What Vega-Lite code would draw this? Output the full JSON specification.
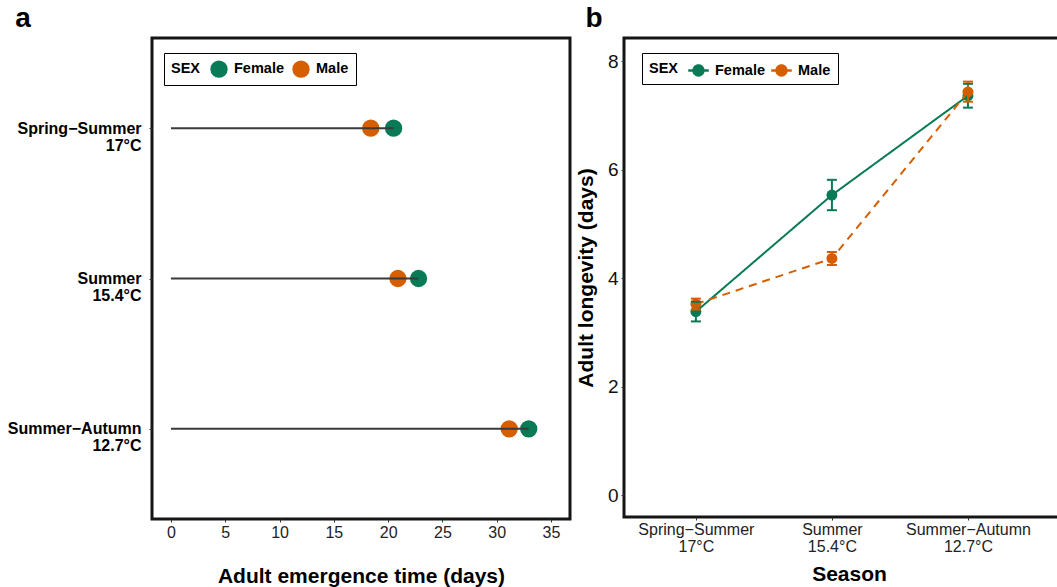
{
  "$schema": "https://vega.github.io/schema/vega-lite/v6.json",
  "padding": {"left": 5, "top": 3, "right": -17, "bottom": 0},
  "config": {
    "font": "Liberation Sans",
    "view": {"stroke": "#151515", "strokeWidth": 3},
    "axis": {"domain": false, "grid": false, "tickColor": "#333", "tickSize": 3, "tickWidth": 1, "labelColor": "#222", "titleColor": "#000", "titleFontWeight": "bold", "titleFontSize": 21, "labelFont": "Liberation Sans", "titleFont": "Liberation Sans"},
    "title": {"fontSize": 28, "fontWeight": "bold", "anchor": "start", "frame": "bounds", "color": "#000", "offset": 5},
    "legend": {"strokeColor": "#000", "fillColor": "white", "padding": 7, "titleFontSize": 14.5, "titleFontWeight": "bold", "titleColor": "#000", "labelFontSize": 14.5, "labelFontWeight": "bold", "labelColor": "#000", "labelOffset": 6, "columnPadding": 8, "titlePadding": 9}
  },
  "datasets": {
    "emergence": [
      {"season": "Spring−Summer 17°C", "sex": "Female", "days": 20.5},
      {"season": "Spring−Summer 17°C", "sex": "Male", "days": 18.4},
      {"season": "Summer 15.4°C", "sex": "Female", "days": 22.8},
      {"season": "Summer 15.4°C", "sex": "Male", "days": 20.9},
      {"season": "Summer−Autumn 12.7°C", "sex": "Female", "days": 32.95},
      {"season": "Summer−Autumn 12.7°C", "sex": "Male", "days": 31.15}
    ],
    "longevity": [
      {"season": "Spring−Summer 17°C", "sex": "Female", "mean": 3.38, "lo": 3.2, "hi": 3.56},
      {"season": "Summer 15.4°C", "sex": "Female", "mean": 5.53, "lo": 5.25, "hi": 5.81},
      {"season": "Summer−Autumn 12.7°C", "sex": "Female", "mean": 7.36, "lo": 7.14, "hi": 7.58},
      {"season": "Spring−Summer 17°C", "sex": "Male", "mean": 3.52, "lo": 3.42, "hi": 3.62},
      {"season": "Summer 15.4°C", "sex": "Male", "mean": 4.36, "lo": 4.24, "hi": 4.48},
      {"season": "Summer−Autumn 12.7°C", "sex": "Male", "mean": 7.43, "lo": 7.25, "hi": 7.62}
    ]
  },
  "spacing": 1,
  "resolve": {"scale": {"color": "independent"}, "legend": {"color": "independent"}},
  "hconcat": [
    {
      "title": {"text": "a", "dx": 8},
      "width": 418,
      "height": 481,
      "data": {"name": "emergence"},
      "layer": [
        {
          "mark": {"type": "point", "filled": true, "size": 300, "opacity": 1, "strokeWidth": 0},
          "encoding": {
            "x": {"field": "days", "type": "quantitative", "scale": {"domain": [-1.75, 36.75], "nice": false, "zero": false}, "axis": {"values": [0, 5, 10, 15, 20, 25, 30, 35], "title": "Adult emergence time (days)", "labelFontSize": 16, "titlePadding": 25, "labelPadding": 2}},
            "y": {"field": "season", "type": "nominal", "sort": ["Spring−Summer 17°C", "Summer 15.4°C", "Summer−Autumn 12.7°C"], "scale": {"type": "point", "padding": 0.6}, "axis": {"title": null, "labelFontWeight": "bold", "labelFontSize": 16, "labelColor": "#000", "labelExpr": "split(datum.label, ' ')", "labelLineHeight": 17, "labelPadding": 8}},
            "color": {"field": "sex", "type": "nominal", "scale": {"domain": ["Female", "Male"], "range": ["#087A55", "#D55E00"]}, "legend": {"orient": "none", "legendX": 12, "legendY": 15, "direction": "horizontal", "title": "SEX", "titleOrient": "left", "symbolType": "circle", "symbolSize": 300, "symbolOpacity": 1, "symbolStrokeWidth": 0}}
          }
        },
        {
          "transform": [{"filter": "datum.sex == 'Female'"}],
          "mark": {"type": "rule", "color": "#3a3a3a", "strokeWidth": 2},
          "encoding": {
            "x": {"field": "days", "type": "quantitative"},
            "x2": {"datum": 0},
            "y": {"field": "season", "type": "nominal", "sort": ["Spring−Summer 17°C", "Summer 15.4°C", "Summer−Autumn 12.7°C"]}
          }
        }
      ]
    },
    {
      "title": {"text": "b", "dx": 10},
      "width": 450,
      "height": 479,
      "data": {"name": "longevity"},
      "encoding": {
        "x": {"field": "season", "type": "nominal", "sort": ["Spring−Summer 17°C", "Summer 15.4°C", "Summer−Autumn 12.7°C"], "scale": {"type": "point", "padding": 0.654, "align": 0.404}, "axis": {"title": "Season", "labelAngle": 0, "labelExpr": "split(datum.label, ' ')", "labelFontSize": 16, "labelLineHeight": 17, "titlePadding": 9, "labelPadding": 1}},
        "color": {"field": "sex", "type": "nominal", "scale": {"domain": ["Female", "Male"], "range": ["#087A55", "#D55E00"]}, "legend": {"orient": "none", "legendX": 18, "legendY": 15, "direction": "horizontal", "title": "SEX", "titleOrient": "left", "symbolType": "M-1,-0.11L1,-0.11L1,0.11L-1,0.11Z M-0.6,0A0.6,0.6 0 1,1 0.6,0A0.6,0.6 0 1,1 -0.6,0Z", "symbolSize": 420, "symbolOpacity": 1, "symbolStrokeWidth": 0, "columnPadding": 6}}
      },
      "layer": [
        {
          "mark": {"type": "point", "filled": true, "size": 120, "opacity": 1, "strokeWidth": 0},
          "encoding": {
            "y": {"field": "mean", "type": "quantitative", "scale": {"domain": [-0.405, 8.424], "nice": false, "zero": false}, "axis": {"values": [0, 2, 4, 6, 8], "title": "Adult longevity (days)", "labelFontSize": 19, "labelColor": "#111", "labelPadding": 3, "titlePadding": 11}}
          }
        },
        {
          "mark": {"type": "line", "strokeWidth": 2},
          "encoding": {
            "y": {"field": "mean", "type": "quantitative"},
            "strokeDash": {"field": "sex", "type": "nominal", "scale": {"domain": ["Female", "Male"], "range": [[1, 0], [8, 6]]}, "legend": null}
          }
        },
        {
          "mark": {"type": "rule", "strokeWidth": 2},
          "encoding": {"y": {"field": "lo", "type": "quantitative"}, "y2": {"field": "hi"}}
        },
        {
          "mark": {"type": "tick", "size": 10, "thickness": 2, "opacity": 1},
          "encoding": {"y": {"field": "lo", "type": "quantitative"}}
        },
        {
          "mark": {"type": "tick", "size": 10, "thickness": 2, "opacity": 1},
          "encoding": {"y": {"field": "hi", "type": "quantitative"}}
        }
      ]
    }
  ]
}
